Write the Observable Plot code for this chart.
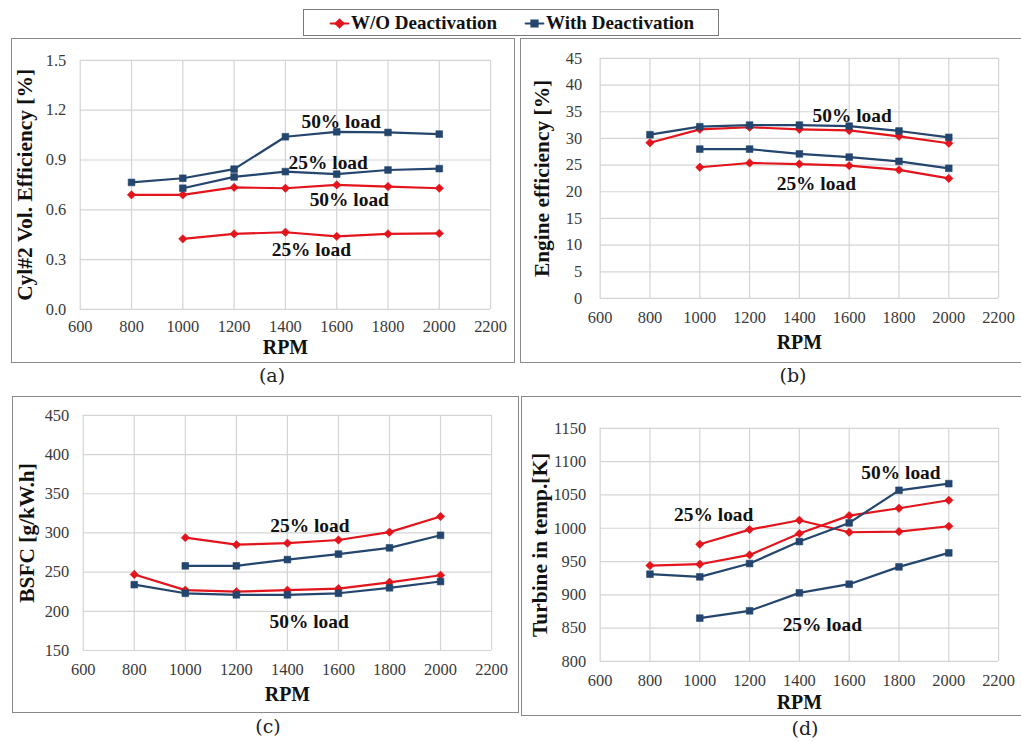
<!DOCTYPE html>
<html>
<head>
<meta charset="utf-8">
<script src="https://cdn.jsdelivr.net/npm/d3@7"></script>
<script src="https://cdn.jsdelivr.net/npm/@observablehq/plot@0.6"></script>
<style>
  html, body { margin: 0; padding: 0; background: #fff; }
  #root { position: relative; width: 1021px; height: 742px; overflow: hidden; background: #fff; font-family: "Liberation Serif", serif; }
  .panel { position: absolute; box-sizing: border-box; border: 1px solid #8a8a8a; background: #fff; }
  .panel svg { position: absolute; left: -1px; top: -1px; }
  .cap { position: absolute; font-family: "DejaVu Serif", serif; font-size: 19px; color: #222; transform: translateX(-50%); }
  #legend { position: absolute; left: 303px; top: 9px; width: 416px; height: 27px; box-sizing: border-box; border: 1px solid #7a7a7a; display: flex; align-items: center; justify-content: center; gap: 26px; font-weight: bold; font-size: 19px; color: #111; }
  #legend span { display: inline-flex; align-items: center; }
  #legend svg { margin-right: 1px; }
</style>
</head>
<body>
<div id="root">
  <div id="legend"></div>
</div>
<script>
// ---------------- data ----------------
const rpm = [800, 1000, 1200, 1400, 1600, 1800, 2000];
const xTicks = [600, 800, 1000, 1200, 1400, 1600, 1800, 2000, 2200];
const modes = ["W/O Deactivation", "With Deactivation"];
const modeColors = ["#e3141b", "#24466e"];
const modeSymbols = ["diamond2", "square"];

// (a) Cyl#2 volumetric efficiency
const volTicks = [0, 0.3, 0.6, 0.9, 1.2, 1.5];
const volWo50 = [0.69, 0.69, 0.735, 0.73, 0.75, 0.74, 0.73];
const volWo25 = [null, 0.425, 0.455, 0.465, 0.44, 0.455, 0.458];
const volWith50 = [0.765, 0.79, 0.845, 1.04, 1.07, 1.066, 1.056];
const volWith25 = [null, 0.73, 0.798, 0.83, 0.815, 0.84, 0.848];

// (b) Engine efficiency
const effTicks = [0, 5, 10, 15, 20, 25, 30, 35, 40, 45];
const effWo50 = [29.2, 31.7, 32.1, 31.7, 31.5, 30.4, 29.1];
const effWo25 = [null, 24.6, 25.4, 25.2, 24.9, 24.1, 22.5];
const effWith50 = [30.7, 32.2, 32.5, 32.5, 32.3, 31.4, 30.2];
const effWith25 = [null, 28.0, 28.0, 27.1, 26.5, 25.7, 24.4];

// (c) BSFC
const bsfcTicks = [150, 200, 250, 300, 350, 400, 450];
const bsfcWo50 = [247, 227, 225, 227, 229, 237, 246];
const bsfcWo25 = [null, 294, 285, 287, 291, 301, 321];
const bsfcWith50 = [234, 223, 221, 221, 223, 230, 238];
const bsfcWith25 = [null, 258, 258, 266, 273, 281, 297];

// (d) Turbine inlet temperature
const turbTicks = [800, 850, 900, 950, 1000, 1050, 1100, 1150];
const turbWo50 = [944, 946, 960, 992, 1019, 1030, 1042];
const turbWo25 = [null, 976, 998, 1012, 994, 995, 1003];
const turbWith50 = [931, 927, 947, 980, 1008, 1057, 1067];
const turbWith25 = [null, 865, 876, 903, 916, 942, 963];

// annotations [label, rpm, value]
const notesA = [["50% load", 1617, 1.128], ["25% load", 1567, 0.882], ["50% load", 1649, 0.66], ["25% load", 1501, 0.36]];
const notesB = [["50% load", 1612, 34.2], ["25% load", 1468, 21.5]];
const notesC = [["25% load", 1488, 309], ["50% load", 1485, 187]];
const notesD = [["50% load", 1808, 1084], ["25% load", 1056, 1020], ["25% load", 1492, 855]];

// ---------------- helpers ----------------
function rows(seriesList) {
  const out = [];
  for (const [vals, m, load] of seriesList) {
    vals.forEach((v, i) => {
      if (v != null) out.push({rpm: rpm[i], value: v, mode: modes[m], series: modes[m] + " " + load});
    });
  }
  return out;
}

function panel(cfg) {
  const data = rows(cfg.series);
  const notes = cfg.notes.map(([label, x, y]) => ({label, x, y}));
  const fontFam = "Liberation Serif, serif";
  const chart = Plot.plot({
    width: cfg.w, height: cfg.h,
    marginLeft: cfg.ml, marginRight: cfg.mr, marginTop: cfg.mt, marginBottom: cfg.mb,
    style: {fontFamily: fontFam, fontSize: "16px", background: "transparent", overflow: "visible"},
    x: {domain: [600, 2200], ticks: xTicks},
    y: {domain: [cfg.ticks[0], cfg.ticks[cfg.ticks.length - 1]], ticks: cfg.ticks},
    color: {domain: modes, range: modeColors},
    symbol: {domain: modes, range: modeSymbols},
    marks: [
      Plot.gridX(xTicks, {stroke: "#d4d4d4", strokeOpacity: 1, strokeWidth: 1.2}),
      Plot.gridY(cfg.ticks, {stroke: "#d4d4d4", strokeOpacity: 1, strokeWidth: 1.2}),
      Plot.axisX(xTicks, {tickSize: 0, tickPadding: cfg.xPad, label: null, color: "#3a3a3a", fontSize: 16.5, tickFormat: d3.format("d")}),
      Plot.axisY(cfg.ticks, {tickSize: 0, tickPadding: cfg.yPad, label: null, color: "#3a3a3a", fontSize: 16.5, tickFormat: cfg.fmt}),
      Plot.line(data, {x: "rpm", y: "value", z: "series", stroke: "mode", strokeWidth: 2.2}),
      Plot.dot(data, {x: "rpm", y: "value", symbol: "mode", fill: "mode", stroke: "mode", r: 3.8, strokeWidth: 0.6}),
      Plot.text(notes, {x: "x", y: "y", text: "label", fontWeight: "bold", fontSize: 19.5, fill: "#111", fontFamily: fontFam}),
      Plot.text(["RPM"], {text: d => d, frameAnchor: "bottom", lineAnchor: "middle", dy: cfg.xLab, fontWeight: "bold", fontSize: 20, fill: "#111", fontFamily: fontFam}),
      Plot.text([cfg.yLabel], {text: d => d, frameAnchor: "left", textAnchor: "middle", lineAnchor: "middle", dx: -cfg.yLab, rotate: -90, fontWeight: "bold", fontSize: 21.5, fill: "#111", fontFamily: fontFam})
    ]
  });
  const div = document.createElement("div");
  div.className = "panel";
  div.style.left = cfg.left + "px";
  div.style.top = cfg.top + "px";
  div.style.width = cfg.w + "px";
  div.style.height = cfg.h + "px";
  div.appendChild(chart);
  document.getElementById("root").appendChild(div);
  const cap = document.createElement("div");
  cap.className = "cap";
  cap.textContent = cfg.cap;
  cap.style.left = cfg.capX + "px";
  cap.style.top = cfg.capY + "px";
  document.getElementById("root").appendChild(cap);
}

// ---------------- panels ----------------
panel({
  left: 11, top: 38, w: 504, h: 325, ml: 69, mr: 23, mt: 22, mb: 53,
  ticks: volTicks, fmt: d3.format(".1f"), xPad: 11, yPad: 14, xLab: 38, yLab: 55,
  yLabel: "Cyl#2 Vol. Efficiency [%]",
  series: [[volWo50, 0, "50"], [volWo25, 0, "25"], [volWith50, 1, "50"], [volWith25, 1, "25"]],
  notes: notesA, cap: "(a)", capX: 272, capY: 364
});
panel({
  left: 520, top: 38, w: 502, h: 325, ml: 80, mr: 22, mt: 20, mb: 64,
  ticks: effTicks, fmt: d3.format("d"), xPad: 13, yPad: 18, xLab: 44, yLab: 58,
  yLabel: "Engine efficiency [%]",
  series: [[effWo50, 0, "50"], [effWo25, 0, "25"], [effWith50, 1, "50"], [effWith25, 1, "25"]],
  notes: notesB, cap: "(b)", capX: 793, capY: 364
});
panel({
  left: 12, top: 396, w: 507, h: 317, ml: 71, mr: 26, mt: 19, mb: 62,
  ticks: bsfcTicks, fmt: d3.format("d"), xPad: 13, yPad: 14, xLab: 44, yLab: 56,
  yLabel: "BSFC [g/kW.h]",
  series: [[bsfcWo50, 0, "50"], [bsfcWo25, 0, "25"], [bsfcWith50, 1, "50"], [bsfcWith25, 1, "25"]],
  notes: notesC, cap: "(c)", capX: 268, capY: 715
});
panel({
  left: 521, top: 396, w: 501, h: 320, ml: 79, mr: 22, mt: 32, mb: 54,
  ticks: turbTicks, fmt: d3.format("d"), xPad: 13, yPad: 14, xLab: 41, yLab: 60,
  yLabel: "Turbine in temp.[K]",
  series: [[turbWo50, 0, "50"], [turbWo25, 0, "25"], [turbWith50, 1, "50"], [turbWith25, 1, "25"]],
  notes: notesD, cap: "(d)", capX: 805, capY: 717
});

// ---------------- legend ----------------
const legend = document.getElementById("legend");
modes.forEach((m, i) => {
  const item = document.createElement("span");
  const sw = Plot.plot({
    width: 22, height: 16, margin: 0,
    x: {domain: [0, 1], axis: null}, y: {domain: [0, 1], axis: null},
    style: {background: "transparent", overflow: "visible"},
    marks: [
      Plot.line([[0.1, 0.5], [0.9, 0.5]], {stroke: modeColors[i], strokeWidth: 2.2}),
      Plot.dot([[0.5, 0.5]], {symbol: modeSymbols[i], fill: modeColors[i], stroke: modeColors[i], r: 3.8})
    ]
  });
  item.appendChild(sw);
  item.appendChild(document.createTextNode(m));
  legend.appendChild(item);
});
</script>
</body>
</html>
